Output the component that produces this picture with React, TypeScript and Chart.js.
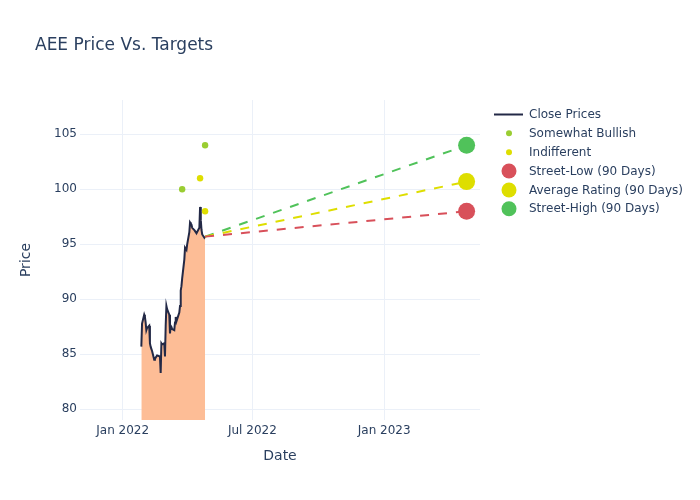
import React, { useEffect, useRef } from "react";
import { Chart, registerables } from "chart.js";

Chart.register(...registerables);

// ---- data ----
const closeDates = [
  "2022-01-27", "2022-01-28", "2022-01-31", "2022-02-01", "2022-02-02", "2022-02-03", "2022-02-04",
  "2022-02-07", "2022-02-08", "2022-02-09", "2022-02-10", "2022-02-11",
  "2022-02-14", "2022-02-15", "2022-02-16", "2022-02-17", "2022-02-18",
  "2022-02-22", "2022-02-23", "2022-02-24", "2022-02-25",
  "2022-02-28", "2022-03-01", "2022-03-02", "2022-03-03", "2022-03-04",
  "2022-03-07", "2022-03-08", "2022-03-09", "2022-03-10", "2022-03-11",
  "2022-03-14", "2022-03-15", "2022-03-16", "2022-03-17", "2022-03-18",
  "2022-03-21", "2022-03-22", "2022-03-23", "2022-03-24", "2022-03-25",
  "2022-03-28", "2022-03-29", "2022-03-30", "2022-03-31", "2022-04-01",
  "2022-04-04", "2022-04-05", "2022-04-06", "2022-04-07", "2022-04-08",
  "2022-04-11", "2022-04-12", "2022-04-13", "2022-04-14",
  "2022-04-18", "2022-04-19", "2022-04-20", "2022-04-21", "2022-04-22",
  "2022-04-25", "2022-04-26",
];
const closePrices = [
  85.7, 87.8, 88.6, 88.4, 87.9, 87.2, 87.4,
  87.6, 86.0, 85.7, 85.5, 85.3,
  84.5, 84.6, 84.7, 84.8, 84.9,
  84.8, 83.3, 86.0, 85.9,
  86.0, 84.8, 87.6, 89.4, 89.1,
  88.6, 86.9, 87.6, 87.5, 87.3,
  87.2, 87.9, 88.4, 88.0, 88.2,
  88.8, 89.4, 90.8, 91.2, 91.9,
  93.6, 94.7, 94.6, 94.5, 95.0,
  96.1, 97.0, 96.9, 96.8, 96.5,
  96.3, 96.2, 96.1, 96.0,
  96.5, 98.4, 97.2, 96.3, 95.9,
  95.6, 95.7,
];

const bullishDates = ["2022-03-25", "2022-04-26"];
const bullishPrices = [100, 104];
const indifferentDates = ["2022-04-19", "2022-04-26"];
const indifferentPrices = [101, 98];

const targetDate = "2023-04-26";
const targetLabels = ["Street-Low (90 Days)", "Average Rating (90 Days)", "Street-High (90 Days)"];
const targetValues = [98, 100.7, 104];
const targetColors = ["#d8505a", "#dede00", "#50c25a"];

const yTicks = [80, 85, 90, 95, 100, 105];
const xTickDates = ["2022-01-01", "2022-07-01", "2023-01-01"];
const xTickLabels = ["Jan 2022", "Jul 2022", "Jan 2023"];

const titleText = "AEE Price Vs. Targets";
const xTitle = "Date";
const yTitle = "Price";

// ---- styling ----
const FONT = '"DejaVu Sans", Verdana, sans-serif';
const TEXT = "#2a3f5f";
const GRID = "#ebf0f8";
const DAY = 86400000;
const X_MIN = Date.parse("2022-01-01") - 59.6 * DAY;
const X_MAX = Date.parse("2022-01-01") + 498.7 * DAY;

const pts = (dates: string[], vals: number[]) =>
  dates.map((d, i) => ({ x: Date.parse(d), y: vals[i] }));

const legendItems = [
  { label: "Close Prices", kind: "line", color: "#232946", r: 0 },
  { label: "Somewhat Bullish", kind: "dot", color: "#9acd32", r: 3 },
  { label: "Indifferent", kind: "dot", color: "#dede00", r: 3 },
  { label: targetLabels[0], kind: "dot", color: targetColors[0], r: 7.5 },
  { label: targetLabels[1], kind: "dot", color: targetColors[1], r: 7.5 },
  { label: targetLabels[2], kind: "dot", color: targetColors[2], r: 7.5 },
];

const textPlugin = {
  id: "plotlyText",
  afterDraw(chart: any) {
    const ctx = chart.ctx;
    const ca = chart.chartArea;
    ctx.save();
    ctx.fillStyle = TEXT;
    // title
    ctx.font = `17px ${FONT}`;
    ctx.textAlign = "left";
    ctx.textBaseline = "alphabetic";
    ctx.fillText(titleText, 35, 50);
    // axis titles
    ctx.font = `14px ${FONT}`;
    ctx.textAlign = "center";
    ctx.textBaseline = "middle";
    ctx.fillText(xTitle, (ca.left + ca.right) / 2, 456);
    ctx.save();
    ctx.translate(26.5, (ca.top + ca.bottom) / 2);
    ctx.rotate(-Math.PI / 2);
    ctx.fillText(yTitle, 0, 0);
    ctx.restore();
    // legend
    ctx.font = `12px ${FONT}`;
    ctx.textAlign = "left";
    ctx.textBaseline = "middle";
    const rows = [114.5, 133.3, 152.3, 171, 190, 208.8];
    legendItems.forEach((it, i) => {
      const y = rows[i];
      if (it.kind === "line") {
        ctx.strokeStyle = it.color;
        ctx.lineWidth = 2;
        ctx.beginPath();
        ctx.moveTo(494, y);
        ctx.lineTo(523, y);
        ctx.stroke();
      } else {
        ctx.fillStyle = it.color;
        ctx.beginPath();
        ctx.arc(509, y, it.r, 0, Math.PI * 2);
        ctx.fill();
      }
      ctx.fillStyle = TEXT;
      ctx.fillText(it.label, 529, y + 0.5);
    });
    ctx.restore();
  },
};

export default function App() {
  const ref = useRef<HTMLCanvasElement | null>(null);

  useEffect(() => {
    if (!ref.current) return;
    const lastX = closeDates[closeDates.length - 1];
    const lastY = closePrices[closePrices.length - 1];

    const datasets: any[] = [
      {
        label: "Close Prices",
        data: pts(closeDates, closePrices),
        showLine: true,
        borderColor: "#232946",
        borderWidth: 2,
        pointRadius: 0,
        fill: "start",
        backgroundColor: "#fdbd96",
        order: 10,
      },
      {
        label: "Somewhat Bullish",
        data: pts(bullishDates, bullishPrices),
        pointRadius: 3.2,
        pointBackgroundColor: "#9acd32",
        pointBorderWidth: 0,
        order: 5,
      },
      {
        label: "Indifferent",
        data: pts(indifferentDates, indifferentPrices),
        pointRadius: 3.2,
        pointBackgroundColor: "#dede00",
        pointBorderWidth: 0,
        order: 5,
      },
    ];
    targetValues.forEach((v, i) => {
      datasets.push({
        label: targetLabels[i] + " line",
        data: pts([lastX, targetDate], [lastY, v]),
        showLine: true,
        borderColor: targetColors[i],
        borderWidth: 2,
        borderDash: [9, 9],
        pointRadius: 0,
        fill: false,
        order: 4,
      });
    });
    targetValues.forEach((v, i) => {
      datasets.push({
        label: targetLabels[i],
        data: pts([targetDate], [v]),
        pointRadius: 8.5,
        pointBackgroundColor: targetColors[i],
        pointBorderWidth: 0,
        order: 1,
      });
    });

    const chart = new Chart(ref.current, {
      type: "scatter",
      data: { datasets },
      options: {
        animation: false,
        responsive: false,
        devicePixelRatio: 1,
        events: [],
        layout: { padding: { left: 0, top: 100, right: 220, bottom: 0 } },
        plugins: {
          legend: { display: false },
          title: { display: false },
          tooltip: { enabled: false },
        },
        scales: {
          x: {
            type: "linear",
            min: X_MIN,
            max: X_MAX,
            border: { display: false },
            grid: { color: GRID, lineWidth: 1, drawTicks: false },
            afterBuildTicks: (s: any) => {
              s.ticks = xTickDates.map((d) => ({ value: Date.parse(d) }));
            },
            afterFit: (s: any) => {
              s.height = 80;
            },
            ticks: {
              autoSkip: false,
              maxRotation: 0,
              padding: 4,
              color: TEXT,
              font: { family: FONT, size: 12 },
              callback: (_v: any, i: number) => xTickLabels[i],
            },
          },
          y: {
            type: "linear",
            min: 79.03,
            max: 108.12,
            border: { display: false },
            grid: { color: GRID, lineWidth: 1, drawTicks: false },
            afterBuildTicks: (s: any) => {
              s.ticks = yTicks.map((v) => ({ value: v }));
            },
            afterFit: (s: any) => {
              s.width = 80;
            },
            ticks: {
              padding: 3,
              color: TEXT,
              font: { family: FONT, size: 12 },
              callback: (v: any) => String(v),
            },
          },
        },
      } as any,
      plugins: [textPlugin],
    });
    return () => chart.destroy();
  }, []);

  return (
    <div style={{ position: "absolute", left: 0, top: 0, width: 700, height: 500, background: "#fff" }}>
      <canvas ref={ref} width={700} height={500} style={{ width: 700, height: 500 }} />
    </div>
  );
}
